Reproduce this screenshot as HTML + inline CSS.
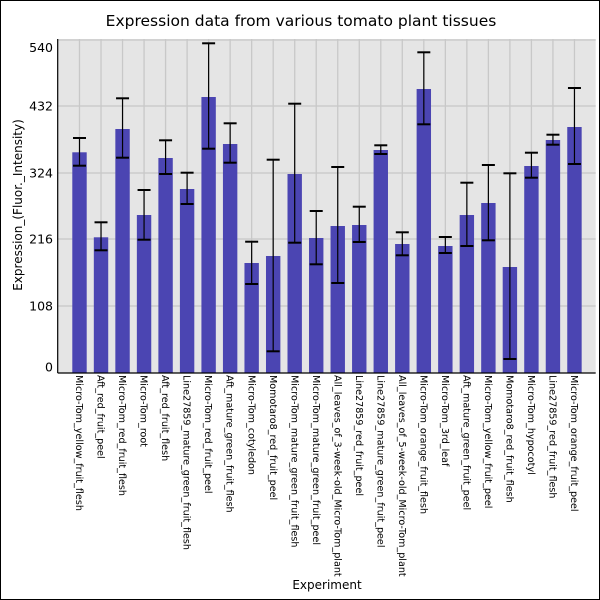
<!DOCTYPE html>
<html><head><meta charset="utf-8"><style>
html,body{margin:0;padding:0;background:#fff;}
svg{display:block;font-family:"DejaVu Sans","Liberation Sans",sans-serif;}
</style></head><body>
<svg width="600" height="600" viewBox="0 0 600 600" xmlns="http://www.w3.org/2000/svg">
<rect x="0.5" y="0.5" width="599" height="599" fill="#fff" stroke="#000" stroke-width="1"/>
<text x="301" y="26" font-size="15.5" text-anchor="middle" fill="#000">Expression data from various tomato plant tissues</text>
<rect x="57.7" y="39" width="538" height="334" fill="#e5e5e5"/>
<g stroke="#c8c8c8" stroke-width="1.3" id="grid"></g>
<g id="bars"></g>
<line x1="57.7" y1="39" x2="57.7" y2="373" stroke="#000" stroke-width="1.2"/>
<line x1="57.7" y1="373" x2="595.7" y2="373" stroke="#000" stroke-width="1.2"/>
<g font-size="12.5" text-anchor="end" fill="#000" id="ylab"></g>
<g font-size="9.6" fill="#000" id="xlab"></g>
<text x="327" y="589" font-size="12" text-anchor="middle">Experiment</text>
<text transform="translate(22,205) rotate(-90)" font-size="12" text-anchor="middle">Expression_(Fluor._Intensity)</text>
</svg>
<script>
var NS="http://www.w3.org/2000/svg";
function el(p,t,a,txt){var e=document.createElementNS(NS,t);for(var k in a)e.setAttribute(k,a[k]);if(txt)e.textContent=txt;p.appendChild(e);return e;}
var names=["Micro-Tom_yellow_fruit_flesh","Aft_red_fruit_peel","Micro-Tom_red_fruit_flesh","Micro-Tom_root","Aft_red_fruit_flesh","Line27859_mature_green_fruit_flesh","Micro-Tom_red_fruit_peel","Aft_mature_green_fruit_flesh","Micro-Tom_cotyledon","Momotaro8_red_fruit_peel","Micro-Tom_mature_green_fruit_flesh","Micro-Tom_mature_green_fruit_peel","All_leaves_of_3-week-old_Micro-Tom_plant","Line27859_red_fruit_peel","Line27859_mature_green_fruit_peel","All_leaves_of_5-week-old_Micro-Tom_plant","Micro-Tom_orange_fruit_flesh","Micro-Tom_3rd_leaf","Aft_mature_green_fruit_peel","Micro-Tom_yellow_fruit_peel","Momotaro8_red_fruit_flesh","Micro-Tom_hypocotyl","Line27859_red_fruit_flesh","Micro-Tom_orange_fruit_peel"];
var d=[[152.3,138,165.7],[237.3,222.3,250.3],[129,98.3,157.7],[215,190,239.7],[158,140.3,174],[189,172.7,204],[97,43.3,148.7],[144,123.3,162.7],[263,241.7,284],[256,159.7,351.3],[174,103.7,242.7],[238,211,264.3],[226,167,283],[225,206.7,242],[150,145.3,154],[244,232.3,255.3],[89,52.3,124.3],[246,237,253],[215,182.7,246],[203,165,240.3],[267,173.3,359],[166,152.7,177.7],[140,134.7,144.7],[127,88,164]];
var g=document.getElementById("grid"),b=document.getElementById("bars"),yl=document.getElementById("ylab"),xl=document.getElementById("xlab");
var ys=[[540,40,52],[432,106,110.5],[324,173,177.5],[216,239,243.5],[108,306,310.5],[0,373,371.5]];
ys.forEach(function(v){ if(v[0]>0) el(g,"line",{x1:57.7,x2:595.7,y1:v[1],y2:v[1]});
 el(yl,"text",{x:53,y:v[2]},String(v[0]));});
for(var i=0;i<24;i++){var cx=79.5+21.52*i;
 el(g,"line",{x1:cx,x2:cx,y1:39,y2:373});}
for(var i=0;i<24;i++){var cx=79.5+21.52*i,r=d[i];
 el(b,"rect",{x:cx-7.2,y:r[0],width:14.4,height:373-r[0],fill:"#4b45b2"});
 el(b,"line",{x1:cx,x2:cx,y1:r[1],y2:r[2],stroke:"#000","stroke-width":1.2});
 el(b,"line",{x1:cx-6.5,x2:cx+6.5,y1:r[1],y2:r[1],stroke:"#000","stroke-width":2});
 el(b,"line",{x1:cx-6.5,x2:cx+6.5,y1:r[2],y2:r[2],stroke:"#000","stroke-width":2});
 el(xl,"text",{transform:"translate("+(cx-3.4)+",375) rotate(90)"},names[i]);}
</script>
</body></html>
